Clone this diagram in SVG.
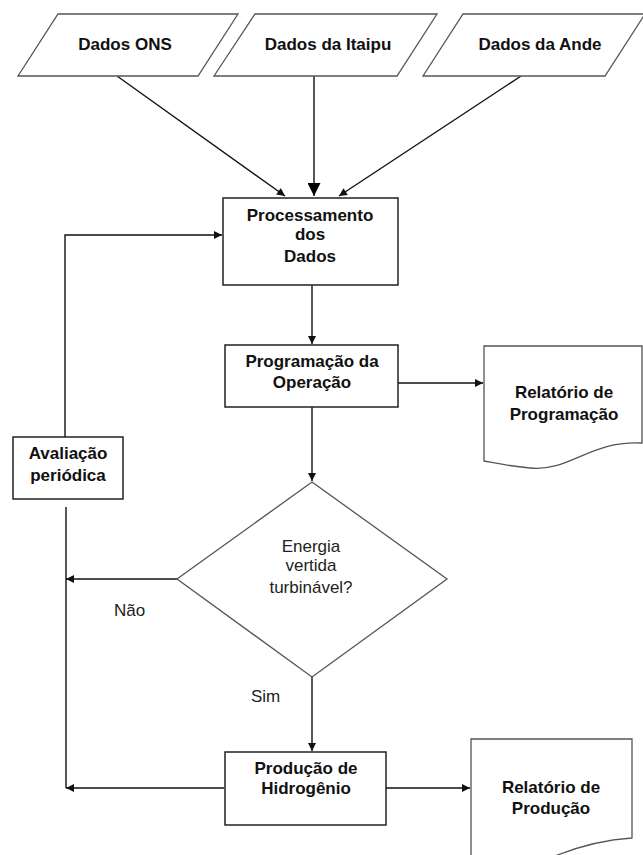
<svg xmlns="http://www.w3.org/2000/svg" width="643" height="855" viewBox="0 0 643 855">
<defs>
<style>
.b{font-family:"Liberation Sans",Arial,sans-serif;font-weight:bold;font-size:17px;fill:#111;text-anchor:middle}
.n{font-family:"Liberation Sans",Arial,sans-serif;font-size:17px;fill:#222;text-anchor:middle}
.box{fill:#fff;stroke:#222;stroke-width:1.5}
.io{fill:#fff;stroke:#555;stroke-width:1.3}
.c{fill:none;stroke:#111;stroke-width:1.4}
</style>
<marker id="a" viewBox="0 0 10 10" refX="10" refY="5" markerWidth="10" markerHeight="8" markerUnits="userSpaceOnUse" orient="auto"><path d="M0,0L10,5L0,10z" fill="#111"/></marker>
<marker id="A" viewBox="0 0 10 10" refX="10" refY="5" markerWidth="15" markerHeight="13" markerUnits="userSpaceOnUse" orient="auto"><path d="M0,0L10,5L0,10z" fill="#000"/></marker>
</defs>
<rect width="643" height="855" fill="#fff"/>
<g id="connectors">
<line class="c" x1="117" y1="76" x2="285" y2="196" marker-end="url(#a)"/>
<line class="c" x1="314" y1="76" x2="314" y2="196" stroke-width="1.8" marker-end="url(#A)"/>
<line class="c" x1="521" y1="76" x2="339" y2="196" marker-end="url(#a)"/>
<polyline class="c" points="65,437 65,235 222,235" marker-end="url(#a)"/>
<line class="c" x1="312" y1="285" x2="312" y2="344" marker-end="url(#a)"/>
<line class="c" x1="398" y1="383" x2="483" y2="383" marker-end="url(#a)"/>
<line class="c" x1="312" y1="407" x2="312" y2="481" marker-end="url(#a)"/>
<line class="c" x1="66" y1="507" x2="66" y2="788"/>
<line class="c" x1="177" y1="579" x2="66" y2="579" marker-end="url(#a)"/>
<line class="c" x1="312" y1="677" x2="312" y2="751" marker-end="url(#a)"/>
<line class="c" x1="224" y1="788" x2="66" y2="788" marker-end="url(#a)"/>
<line class="c" x1="386" y1="788" x2="470" y2="788" marker-end="url(#a)"/>
</g>
<g id="dados-ons">
<polygon class="io" points="58,14 238,14 198,76 18,76"/>
<text class="b" x="125" y="50">Dados ONS</text>
</g>
<g id="dados-itaipu">
<polygon class="io" points="255,14 437,14 397,76 214,76"/>
<text class="b" x="328" y="50">Dados da Itaipu</text>
</g>
<g id="dados-ande">
<polygon class="io" points="463,14 645,14 605,76 423,76"/>
<text class="b" x="540" y="50">Dados da Ande</text>
</g>
<g id="processamento">
<rect class="box" x="223" y="198" width="175" height="87"/>
<text class="b" x="310" y="221">Processamento</text>
<text class="b" x="310" y="240">dos</text>
<text class="b" x="310" y="262">Dados</text>
</g>
<g id="programacao">
<rect class="box" x="225" y="345" width="173" height="62"/>
<text class="b" x="312" y="367">Programação da</text>
<text class="b" x="312" y="388">Operação</text>
</g>
<g id="relatorio-programacao">
<path class="io" d="M484,346 L642,346 L642,443 C590,440 570,472 530,468 C508,466 495,463 484,461 Z"/>
<text class="b" x="564" y="398">Relatório de</text>
<text class="b" x="564" y="420">Programação</text>
</g>
<g id="avaliacao">
<rect class="box" x="13" y="437" width="110" height="62"/>
<text class="b" x="68" y="459">Avaliação</text>
<text class="b" x="68" y="481">periódica</text>
</g>
<g id="decisao">
<polygon class="io" points="312,482 447,579 312,677 177,579"/>
<text class="n" x="311" y="552">Energia</text>
<text class="n" x="311" y="571">vertida</text>
<text class="n" x="311" y="593">turbinável?</text>
</g>
<text class="n" x="114" y="616" text-anchor="start" style="text-anchor:start">Não</text>
<text class="n" x="251" y="702" style="text-anchor:start">Sim</text>
<g id="producao">
<rect class="box" x="225" y="752" width="161" height="73"/>
<text class="b" x="306" y="774">Produção de</text>
<text class="b" x="306" y="794">Hidrogênio</text>
</g>
<g id="relatorio-producao">
<path class="io" d="M471,739 L632,739 L632,838 C600,840 575,848 555,856 L471,856 Z"/>
<text class="b" x="551" y="793">Relatório de</text>
<text class="b" x="551" y="814">Produção</text>
</g>
</svg>
